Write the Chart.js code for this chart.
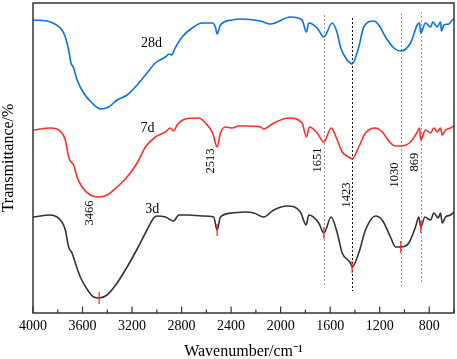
<!DOCTYPE html>
<html>
<head>
<meta charset="utf-8">
<script src="https://cdn.jsdelivr.net/npm/chart.js@4/dist/chart.umd.min.js"></script>
<style>
  html, body { margin: 0; padding: 0; background: #fff; }
  #wrap { width: 457px; height: 359px; position: relative; }
</style>
</head>
<body>
<div id="wrap"><canvas id="c"></canvas></div>
<script>
// FTIR spectra of the samples at 3, 7 and 28 days. Y is transmittance in
// arbitrary units (the original has no y tick labels).

const xTicks = [4000, 3600, 3200, 2800, 2400, 2000, 1600, 1200, 800];

// 28d (blue)
const wn28 = [4000, 3860, 3766, 3739, 3712, 3693, 3672, 3644, 3591, 3523, 3456, 3389, 3321, 3240, 3159, 3092, 3012,
  2931, 2900, 2878, 2860, 2796, 2715, 2634, 2553, 2527, 2513, 2486, 2392, 2325, 2163, 2082, 1921, 1827, 1792, 1773,
  1705, 1651, 1584, 1543, 1517, 1463, 1436, 1423, 1369, 1329, 1248, 1207, 1153, 1086, 1030, 951, 897, 878, 869,
  830, 789, 771, 735, 709, 701, 682, 641, 614, 600];
const t28 = [293, 291, 283, 276, 263, 250, 245, 233, 220, 210, 204, 206, 213, 218, 228, 238, 250,
  256, 259, 258, 263, 276, 285, 290, 290, 286, 279, 288, 293, 294, 292, 289, 296, 293, 281, 290,
  285, 276, 290, 280, 266, 253, 250, 249, 266, 286, 292, 288, 276, 265, 262, 270, 288, 290, 280,
  290, 286, 291, 286, 291, 282, 288, 289, 293, 294];

// 7d (red)
const wn7 = [4000, 3860, 3766, 3739, 3712, 3693, 3672, 3644, 3604, 3537, 3470, 3402, 3321, 3240, 3159, 3092, 3012,
  2931, 2891, 2864, 2836, 2769, 2662, 2608, 2549, 2513, 2486, 2446, 2392, 2339, 2284, 2163, 2137, 2056, 1934,
  1827, 1792, 1767, 1705, 1651, 1592, 1543, 1503, 1436, 1423, 1369, 1315, 1234, 1180, 1113, 1072, 1030, 951,
  897, 878, 869, 830, 789, 763, 735, 709, 695, 668, 628, 600];
const t7 = [183, 185, 180, 173, 156, 151, 148, 136, 126, 118, 116, 118, 126, 136, 150, 166, 176,
  181, 185, 182, 188, 194, 195, 190, 180, 166, 180, 186, 185, 187, 187, 186, 184, 190, 195,
  190, 176, 186, 180, 171, 185, 173, 161, 155, 154, 166, 180, 185, 181, 170, 167, 167, 171,
  181, 185, 173, 183, 180, 185, 181, 185, 178, 183, 185, 187];

// 3d (dark grey)
const wn3 = [4000, 3860, 3766, 3739, 3712, 3685, 3658, 3618, 3564, 3510, 3466, 3402, 3321, 3240, 3159, 3092, 3025,
  2998, 2931, 2864, 2823, 2743, 2634, 2541, 2513, 2486, 2392, 2284, 2217, 2137, 2056, 1947, 1840, 1794, 1773,
  1692, 1651, 1592, 1543, 1503, 1436, 1423, 1369, 1315, 1234, 1180, 1113, 1072, 1030, 965, 911, 884, 869,
  835, 789, 763, 727, 709, 695, 668, 628, 600];
const t3 = [96, 98, 91, 83, 66, 60, 50, 36, 24, 16, 15, 18, 30, 46, 64, 80, 95,
  97, 96, 92, 98, 98, 97, 96, 83, 96, 100, 101, 100, 96, 103, 107, 101, 88, 98,
  90, 80, 96, 80, 60, 50, 46, 60, 83, 97, 93, 76, 66, 66, 70, 86, 96, 86,
  96, 93, 100, 95, 100, 90, 96, 98, 101];

const seriesNames = ['28d', '7d', '3d'];
const peaks = [3466, 2513, 1651, 1423, 1030, 869];
const peakLabels = ['3466', '2513', '1651', '1423', '1030', '869'];

// layout bits (data units), kept apart from the values
const seriesLabelPos = [[3044, 270], [3076, 185], [3036, 104]];
const peakLabelPos = [[3545, 100], [2567, 152], [1699, 153], [1468, 118], [1080, 138], [915, 151]];
const guideLines = [
  { w: 1651, from: 26, to: 298, color: '#9a9a9a' },
  { w: 1423, from: 22, to: 295, color: '#111' },
  { w: 1030, from: 27, to: 300, color: '#9a9a9a' },
  { w: 869,  from: 30, to: 301, color: '#9a9a9a' },
];

const SERIF = "'Liberation Serif', 'Times New Roman', serif";
const pts = (xs, ys) => xs.map((x, i) => ({ x, y: ys[i] }));

function valueAt(xs, ys, w) {
  for (let i = 0; i < xs.length - 1; i++) {
    const a = xs[i], b = xs[i + 1];
    if ((w <= a && w >= b)) {
      const f = a === b ? 0 : (a - w) / (a - b);
      return ys[i] + f * (ys[i + 1] - ys[i]);
    }
  }
  return ys[ys.length - 1];
}

const guides = {
  id: 'guides',
  beforeDatasetsDraw(chart) {
    const { ctx, scales: { x, y } } = chart;
    ctx.save();
    ctx.lineWidth = 1;
    ctx.setLineDash([2, 2]);
    guideLines.forEach(g => {
      const px = Math.round(x.getPixelForValue(g.w)) + 0.5;
      ctx.strokeStyle = g.color;
      ctx.beginPath();
      ctx.moveTo(px, y.getPixelForValue(g.to));
      ctx.lineTo(px, y.getPixelForValue(g.from));
      ctx.stroke();
    });
    ctx.restore();
  },
  afterDraw(chart) {
    const { ctx, chartArea: a, scales: { x, y } } = chart;
    ctx.save();

    // frame
    ctx.strokeStyle = '#333';
    ctx.lineWidth = 1.5;
    ctx.strokeRect(a.left, a.top, a.right - a.left, a.bottom - a.top);

    // inward ticks on the bottom axis, minor every 200
    ctx.lineWidth = 1.2;
    for (let w = 4000; w >= 600; w -= 200) {
      const px = x.getPixelForValue(w);
      const len = w % 400 === 0 ? 6.5 : 3.5;
      ctx.beginPath();
      ctx.moveTo(px, a.bottom);
      ctx.lineTo(px, a.bottom - len);
      ctx.stroke();
    }

    // red marks on the 3d curve
    ctx.strokeStyle = '#ff2020';
    ctx.lineWidth = 1.2;
    peaks.forEach(w => {
      const px = x.getPixelForValue(w);
      const py = y.getPixelForValue(valueAt(wn3, t3, w));
      ctx.beginPath();
      ctx.moveTo(px, py - 6);
      ctx.lineTo(px, py + 6);
      ctx.stroke();
    });

    // series names
    ctx.fillStyle = '#000';
    ctx.font = '14px ' + SERIF;
    ctx.textAlign = 'center';
    ctx.textBaseline = 'middle';
    seriesNames.forEach((s, i) => {
      const [w, t] = seriesLabelPos[i];
      ctx.fillText(s, x.getPixelForValue(w), y.getPixelForValue(t));
    });

    // rotated peak labels
    ctx.font = '12.5px ' + SERIF;
    peakLabels.forEach((s, i) => {
      const [w, t] = peakLabelPos[i];
      ctx.save();
      ctx.translate(x.getPixelForValue(w), y.getPixelForValue(t));
      ctx.rotate(-Math.PI / 2);
      ctx.fillText(s, 0, 0);
      ctx.restore();
    });
    ctx.restore();
  }
};

const lineStyle = (label, data, color) => ({
  label, data,
  borderColor: color,
  borderWidth: 1.6,
  pointRadius: 0,
  cubicInterpolationMode: 'monotone',
  fill: false,
});

new Chart(document.getElementById('c'), {
  type: 'line',
  data: {
    datasets: [
      lineStyle(seriesNames[0], pts(wn28, t28), '#0a70e6'),
      lineStyle(seriesNames[1], pts(wn7, t7), '#ff2d2d'),
      lineStyle(seriesNames[2], pts(wn3, t3), '#333333'),
    ]
  },
  options: {
    responsive: true,
    maintainAspectRatio: false,
    animation: false,
    layout: { padding: { top: 3, right: 3, left: 0, bottom: 0 } },
    plugins: { legend: { display: false }, tooltip: { enabled: false } },
    scales: {
      x: {
        type: 'linear',
        reverse: true,
        min: 600,
        max: 4000,
        afterBuildTicks: (s) => { s.ticks = xTicks.map(v => ({ value: v })); },
        afterFit: (s) => { s.height = 46; },
        grid: { display: false, drawTicks: false },
        border: { display: false },
        ticks: { color: '#000', font: { family: SERIF, size: 14 }, padding: 5, maxRotation: 0, autoSkip: false,
                 callback: (v) => String(v) },
        title: { display: true, text: 'Wavenumber/cm⁻¹', color: '#000', font: { family: SERIF, size: 16 }, padding: { top: 0, bottom: -2 } }
      },
      y: {
        min: 0,
        max: 310,
        afterFit: (s) => { s.width = 33; },
        grid: { display: false },
        border: { display: false },
        ticks: { display: false },
        title: { display: true, text: 'Transmittance/%', color: '#000', font: { family: SERIF, size: 16 }, padding: { top: -1, bottom: 0 } }
      }
    }
  },
  plugins: [guides]
});
</script>
</body>
</html>
